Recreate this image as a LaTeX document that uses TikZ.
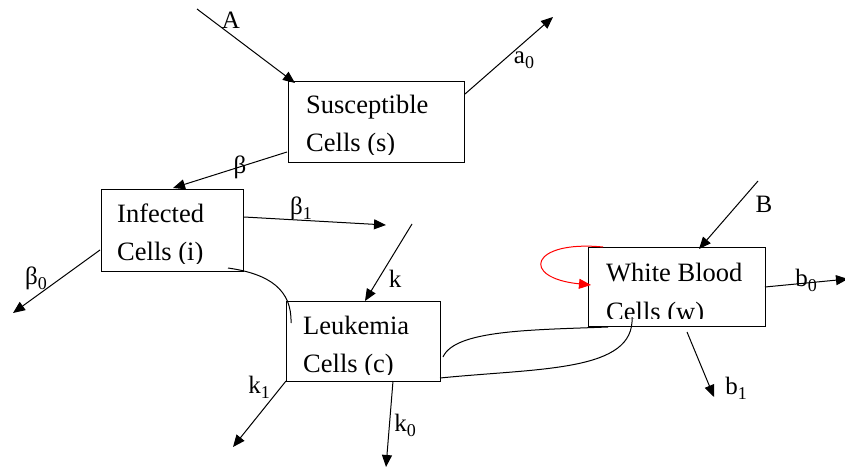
\documentclass[tikz,border=0pt]{standalone}
\usepackage{fontspec}
\setmainfont{Liberation Serif}
\usetikzlibrary{arrows.meta,calc}
\newcommand{\sbs}[1]{\raisebox{-5pt}{\fontsize{18}{18}\selectfont #1}}
\begin{document}
\begin{tikzpicture}[x=1pt,y=-1pt,
  box/.style={draw,line width=1.2pt,inner sep=0pt,anchor=north west},
  txt/.style={anchor=base west,inner sep=0pt,font=\fontsize{26.5}{37}\selectfont},
  lbl/.style={inner sep=0pt,font=\fontsize{25}{28}\selectfont},
  flow/.style={line width=1pt,-{Triangle[length=12pt,width=10pt]}},
  link/.style={line width=1pt}]
\useasboundingbox (0,0) rectangle (845,470);
% boxes
\node[box,minimum width=176pt,minimum height=81pt] (s) at (288,81) {};
\node[box,minimum width=142pt,minimum height=82pt] (i) at (101,189) {};
\node[box,minimum width=154pt,minimum height=80pt] (c) at (286,301) {};
\node[box,minimum width=177pt,minimum height=79pt] (w) at (588,247) {};
% box texts (clipped at the bottom as in the reference)
\begin{scope}
\clip (s.north west) rectangle ([yshift=9pt]s.south east);
\node[txt] (s1) at (306,114) {Susceptible};
\node[txt] (s2) at (306,152) {Cells (s)};
\end{scope}
\begin{scope}
\clip (i.north west) rectangle ([yshift=9pt]i.south east);
\node[txt] (i1) at (117,223) {Infected};
\node[txt] (i2) at (117,260) {Cells (i)};
\end{scope}
\begin{scope}
\clip (c.north west) rectangle ([yshift=8pt]c.south east);
\node[txt] (c1) at (303,334) {Leukemia};
\node[txt] (c2) at (303,372) {Cells (c)};
\end{scope}
\begin{scope}
\clip (w.north west) rectangle ([yshift=9pt]w.south east);
\node[txt] (w1) at (606,281) {White Blood};
\node[txt] (w2) at (606,320) {Cells (w)};
\end{scope}
% coordinates
\coordinate (Ain) at (197,9);
\coordinate (Aend) at (295,83);
\coordinate (a0s) at (465,94);
\coordinate (a0e) at (553,17);
\coordinate (bs) at (287,152);
\coordinate (be) at (173,188);
\coordinate (b1s) at (244,217);
\coordinate (b1e) at (386,225);
\coordinate (b0s) at (100,250);
\coordinate (b0e) at (13,313);
\coordinate (ks) at (412,224);
\coordinate (ke) at (365,301);
\coordinate (k1s) at (286,381);
\coordinate (k1e) at (233,447);
\coordinate (k0s) at (393,381);
\coordinate (k0e) at (386,467);
\coordinate (Bs) at (758,181);
\coordinate (Be) at (699,249);
\coordinate (bb0s) at (765,287);
\coordinate (bb0e) at (848,279);
\coordinate (bb1s) at (687,332);
\coordinate (bb1e) at (714,397);
\coordinate (ic1) at (228,268);
\coordinate (ic2) at (291,323);
\coordinate (cw1) at (443,357);
\coordinate (cw2) at (608,327);
\coordinate (cw3) at (440,378);
\coordinate (cw4) at (632,317);
\coordinate (r1) at (603,247);
\coordinate (r2) at (591,285);
% flows
\draw[flow] (Ain) -- (Aend);
\draw[flow] (a0s) -- (a0e);
\draw[flow] (bs) -- (be);
\draw[flow] (b1s) -- (b1e);
\draw[flow] (b0s) -- (b0e);
\draw[flow] (ks) -- (ke);
\draw[flow] (k1s) -- (k1e);
\draw[flow] (k0s) -- (k0e);
\draw[flow] (Bs) -- (Be);
\draw[flow] (bb0s) -- (bb0e);
\draw[flow] (bb1s) -- (bb1e);
% interaction curves
\draw[link] (ic1) .. controls (270,274) and (292,290) .. (ic2);
\draw[link] (cw1) .. controls (455,330) and (530,330) .. (cw2);
\draw[link] (cw3) .. controls (540,368) and (635,372) .. (cw4);
\draw[line width=1pt,red,-{Triangle[length=12pt,width=10pt]}] (r1) .. controls (530,240) and (520,278) .. (r2);
% labels
\node[lbl] (lA) at (231,20) {A};
\node[lbl] (la0) at (524,60) {a\sbs{0}};
\node[lbl] (lb) at (240,167) {β};
\node[lbl] (lb1) at (301,208) {β\sbs{1}};
\node[lbl] (lb0) at (36,278) {β\sbs{0}};
\node[lbl] (lk) at (395,279) {k};
\node[lbl] (lk1) at (259,387) {k\sbs{1}};
\node[lbl] (lk0) at (405,425) {k\sbs{0}};
\node[lbl] (lB) at (764,204) {B};
\node[lbl] (lbb0) at (806,280) {b\sbs{0}};
\node[lbl] (lbb1) at (736,388) {b\sbs{1}};
\end{tikzpicture}
\end{document}
